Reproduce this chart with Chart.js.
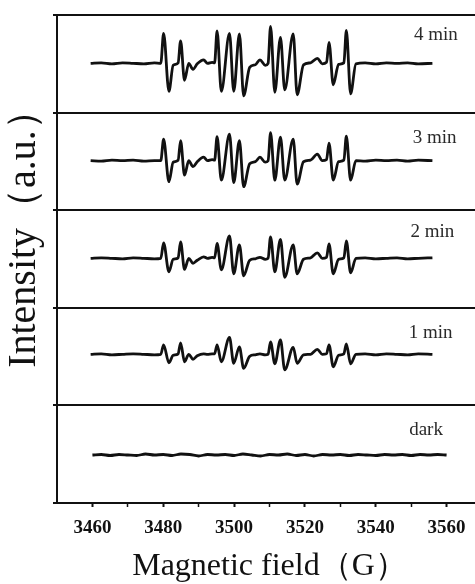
<!DOCTYPE html>
<html>
<head>
<meta charset="utf-8">
<script src="https://cdn.jsdelivr.net/npm/chart.js@4.4.0/dist/chart.umd.min.js"></script>
<style>
  html, body { margin: 0; padding: 0; background: #fff; overflow: hidden; }
  canvas { display: block; }
</style>
</head>
<body>
<canvas id="epr" width="482" height="584"></canvas>
<script>
// magnetic field (G) shared by the four irradiated spectra
const field = [
  3459.5, 3462.5, 3465.5, 3468.5, 3471.5, 3474.5, 3477.5, 3479.3,
  3480.1, 3481.6, 3482.8, 3484.2,
  3484.9, 3486.0, 3487.2, 3488.4, 3489.6, 3491.4, 3492.5, 3493.8, 3494.5,
  3495.2, 3496.4, 3498.7, 3499.9, 3501.5, 3502.7, 3504.4, 3506.0, 3507.3, 3508.8, 3509.6,
  3510.3, 3511.5, 3513.1, 3514.3, 3516.7, 3517.8, 3519.6, 3521.6, 3523.5, 3524.9, 3526.1,
  3526.8, 3528.0, 3529.5, 3531.0,
  3531.7, 3532.9, 3534.4, 3537, 3540, 3543, 3546, 3549, 3552, 3556
];
const int4min = [
  0, 0.5, -0.5, 0.5, 0, -0.5, 0.5, 0,
  30, -28, -2, 0.5,
  22.5, -17, 0, -6, -0.5, 3.5, 0, 1, 0.5,
  32.5, -28, 30, -28, 29.5, -32.5, -4, -1.5, 3.5, -2, 0,
  37, -29, 26, -26.5, 29.5, -31.5, -1.5, 0.5, 5, -0.5, 1,
  21, -21.5, -1, 0.5,
  33, -30.5, -0.5, 0.5, -0.5, 0.5, 0, 0.5, -0.5, 0
];
const int3min = [
  0, -0.5, 0.5, 0, 0.5, -0.5, 0, 0,
  21.5, -21, -1.5, 0.5,
  20, -14.5, 0, -6, -1, 3.5, 0, 1, 0.5,
  24, -19.5, 26.5, -22, 20, -26, -3, -1, 3.5, -1.5, 0,
  28, -19.5, 23.5, -19.5, 21.5, -23.5, -1, 0.5, 6.5, 0, 1,
  17.5, -19.5, -1, 0.5,
  24.5, -19.5, 0, -0.5, 0.5, 0, 0.5, -0.5, 0.5, 0
];
const int2min = [
  0, 0.5, 0, -0.5, 0.5, 0, -0.5, 0,
  15.5, -13.5, -1, 0.5,
  16.5, -11, 0, -5, -2, 1.5, 0, 1, 0.5,
  15, -11.5, 22.5, -15.5, 13.5, -17.5, -2, -0.5, 1, -1, 0,
  21.5, -13.5, 19, -19, 13.5, -15.5, -1, 0.5, 5.5, 0, 1,
  14.5, -15.5, -1, 0.5,
  17.5, -14.5, 0, 0.5, -0.5, 0, 0.5, -0.5, 0, 0.5
];
const int1min = [
  0, 0.5, -0.5, 0, 0.5, 0, -0.5, 0,
  9.5, -8.5, -1, 0.5,
  11.5, -7.5, 0, -5, -1.5, 0.5, 0, 0.5, 0.5,
  9.5, -7.5, 17, -9, 7.5, -14, -2, -0.5, 0.5, -0.5, 0,
  12.5, -9.5, 14.5, -15.5, 7, -9, -0.5, 0, 5, 0, 0.5,
  9.5, -12.5, -1, 0.5,
  10.5, -9.5, 0, 0.5, -0.5, 0.5, 0, -0.5, 0.5, 0
];
// dark control, flat trace
const fieldDark = [
  3460, 3462.5, 3465, 3467.5, 3470, 3472.5, 3475, 3477.5, 3480, 3482.5,
  3485, 3487.5, 3490, 3492.5, 3495, 3497.5, 3500, 3502.5, 3505, 3507.5,
  3510, 3512.5, 3515, 3517.5, 3520, 3522.5, 3525, 3527.5, 3530, 3532.5,
  3535, 3537.5, 3540, 3542.5, 3545, 3547.5, 3550, 3552.5, 3555, 3557.5, 3560
];
const intDark = [
  0, 0.5, -0.5, 0.5, 0, -0.5, 1, 0, 0.5, -0.5,
  1, 0.5, -1, 0.5, 0, 0.5, -0.5, 1, 0, -1,
  0.5, 0, 1, -0.5, 0.5, -1, 0.5, 0, 0.5, -0.5,
  0.5, 0, -0.5, 0.5, 0, 0.5, -0.5, 0.5, 0, 0.5, 0
];
const panelLabels = ['4 min', '3 min', '2 min', '1 min', 'dark'];
const majorTicks = [3460, 3480, 3500, 3520, 3540, 3560];
const minorTicks = [3470, 3490, 3510, 3530, 3550];

const serif = '"Liberation Serif", "Times New Roman", serif';
const ink = '#111';

// top to bottom
const panels = [
  { id: 'y4', x: field, y: int4min, min: -49.3, max: 48.3 },
  { id: 'y3', x: field, y: int3min, min: -49.5, max: 48.1 },
  { id: 'y2', x: field, y: int2min, min: -49.5, max: 48.1, title: true },
  { id: 'y1', x: field, y: int1min, min: -51.1, max: 46.5 },
  { id: 'y0', x: fieldDark, y: intDark, min: -48, max: 49.6 }
];

function panelAxis(p) {
  return {
    type: 'linear',
    position: 'left',
    stack: 'panels',
    stackWeight: 1,
    min: p.min,
    max: p.max,
    afterBuildTicks: s => { s.ticks = [{ value: s.min }, { value: s.max }]; },
    afterFit: s => { s.width = 57; },
    ticks: { display: false },
    grid: { color: ink, lineWidth: 2, drawTicks: true, tickLength: 4, tickColor: ink },
    border: { color: ink, width: 2 },
    title: {
      display: !!p.title,
      text: '      Intensity（a.u.）',
      color: ink,
      font: { family: serif, size: 40, lineHeight: 1 },
      padding: { top: 4, bottom: 0 }
    }
  };
}

const panelText = {
  id: 'panelText',
  afterDatasetsDraw(chart, args, opts) {
    const ctx = chart.ctx;
    ctx.save();
    ctx.font = 'normal 400 19px ' + serif;
    ctx.fillStyle = '#2a2a2a';
    ctx.textAlign = 'center';
    ctx.textBaseline = 'middle';
    panelLabels.forEach((t, i) => {
      const sy = chart.scales[panels[i].id];
      ctx.fillText(t, chart.scales.x.getPixelForValue(opts.at[i][0]), sy.getPixelForValue(opts.at[i][1]));
    });
    ctx.restore();
  }
};

const scales = {
  x: {
    type: 'linear',
    min: 3450,
    max: 3570,
    afterBuildTicks: s => {
      s.ticks = majorTicks.concat(minorTicks).sort((a, b) => a - b).map(v => ({ value: v }));
    },
    afterFit: s => { s.height = 81; },
    ticks: {
      autoSkip: false,
      maxRotation: 0,
      padding: 10,
      color: ink,
      font: { family: serif, size: 19, weight: 'bold' },
      callback: v => majorTicks.includes(v) ? String(v) : ''
    },
    grid: {
      drawOnChartArea: false,
      drawTicks: true,
      tickLength: 4,
      tickColor: ink,
      tickWidth: c => (c.tick && majorTicks.includes(c.tick.value)) ? 2 : 1.5
    },
    border: { color: ink, width: 2 },
    title: {
      display: true,
      text: 'Magnetic field（G）',
      color: ink,
      font: { family: serif, size: 32, lineHeight: 1 },
      padding: { top: 0, bottom: 1 }
    }
  }
};
// stacked axes are laid out bottom-up, so register them in reverse
panels.slice().reverse().forEach(p => { scales[p.id] = panelAxis(p); });

new Chart(document.getElementById('epr'), {
  type: 'line',
  data: {
    datasets: panels.map(p => ({
      data: p.x.map((x, i) => ({ x: x, y: p.y[i] })),
      yAxisID: p.id,
      xAxisID: 'x',
      borderColor: ink,
      borderWidth: 2.8,
      pointRadius: 0,
      cubicInterpolationMode: 'monotone',
      fill: false
    }))
  },
  options: {
    responsive: false,
    animation: false,
    layout: { padding: { top: 15, right: 0, bottom: 0, left: 0 } },
    plugins: {
      legend: { display: false },
      tooltip: { enabled: false },
      panelText: { at: [[3557, 28], [3556.6, 22.7], [3556, 26], [3555.5, 21], [3554.2, 25]] }
    },
    scales: scales
  },
  plugins: [panelText]
});
</script>
</body>
</html>
